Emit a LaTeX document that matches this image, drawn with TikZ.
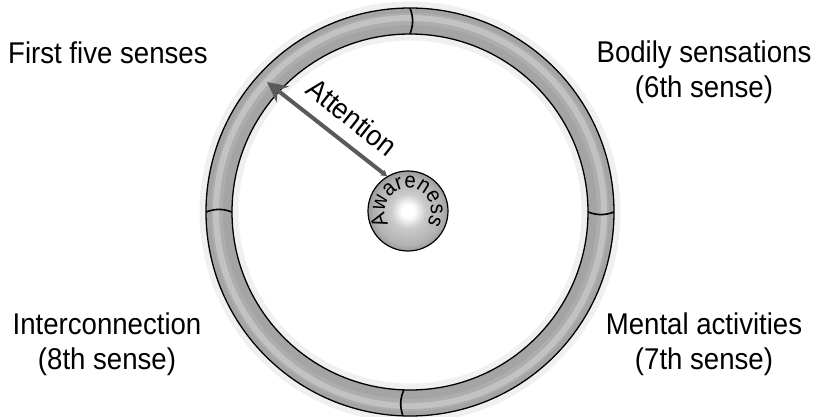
\documentclass[tikz,border=0pt]{standalone}
\usepackage{fontspec}
\setmainfont[FakeStretch=0.92]{Liberation Sans}
\usetikzlibrary{arrows.meta,decorations.text}

\definecolor{ringgray}{HTML}{A4A4A4}
\definecolor{ringlight}{HTML}{C2C2C2}
\definecolor{arrowgray}{HTML}{5A5A5A}

\pgfdeclareradialshading{orb}{\pgfpoint{0bp}{0bp}}{color(0bp)=(white); color(4bp)=(white); color(11bp)=(gray!42); color(21bp)=(gray!60); color(25bp)=(gray!78); color(50bp)=(gray!78)}

\newcommand{\awarefont}{\fontsize{22}{22}\selectfont}

\tikzset{
  sense/.style={font=\fontsize{30}{35}\selectfont, align=center, inner sep=0pt},
  divider/.style={black, line width=1.6pt},
  pointer/.style={arrowgray, line width=4pt,
    {Stealth[length=6pt,width=7pt]}-{Stealth[length=20pt,width=20pt]}},
}

\begin{document}
\begin{tikzpicture}[x=1pt, y=-1pt]
  \useasboundingbox (0,0) rectangle (818,417);
  \coordinate (c) at (410,212);

  % soft halo and ring
  \draw[gray!12, line width=7pt] (c) circle (207pt) (c) circle (175pt);
  \fill[ringgray, even odd rule] (c) circle (204pt) (c) circle (178pt);
  \draw[ringgray!70!ringlight, line width=12pt] (c) circle (193pt);
  \draw[ringlight, line width=6pt] (c) circle (194pt);
  \draw[black, line width=1.3pt] (c) circle (204pt) (c) circle (178pt);
  \foreach \a in {0,90,180,268}
    \draw[divider] ([shift={(c)}]\a:178pt) to[bend right=20] ([shift={(c)}]\a:204pt);

  % awareness
  \node[circle, draw=black, line width=1.2pt, minimum size=80pt, shading=orb] (aware) at (408,211) {};
  \path[decorate, decoration={text along path, text align=center,
      text={|\awarefont|Awareness}}]
    ([shift={(aware.center)}]222:23pt) arc[start angle=222, end angle=-42, radius=23pt];

  % attention
  \coordinate (tip) at (267,82);
  \draw[pointer] (aware.121) -- (tip);
  \node[font=\fontsize{29}{29}\selectfont, rotate=-38.4] (attn) at (352,117) {Attention};

  % senses
  \node[sense, anchor=base west] (five) at (8,64) {First five senses};
  \node[sense, anchor=north] (bodily) at (704,41) {Bodily sensations\\(6th sense)};
  \node[sense, anchor=north] (inter) at (107,313) {Interconnection\\(8th sense)};
  \node[sense, anchor=north] (mental) at (704,313) {Mental activities\\(7th sense)};
\end{tikzpicture}
\end{document}
